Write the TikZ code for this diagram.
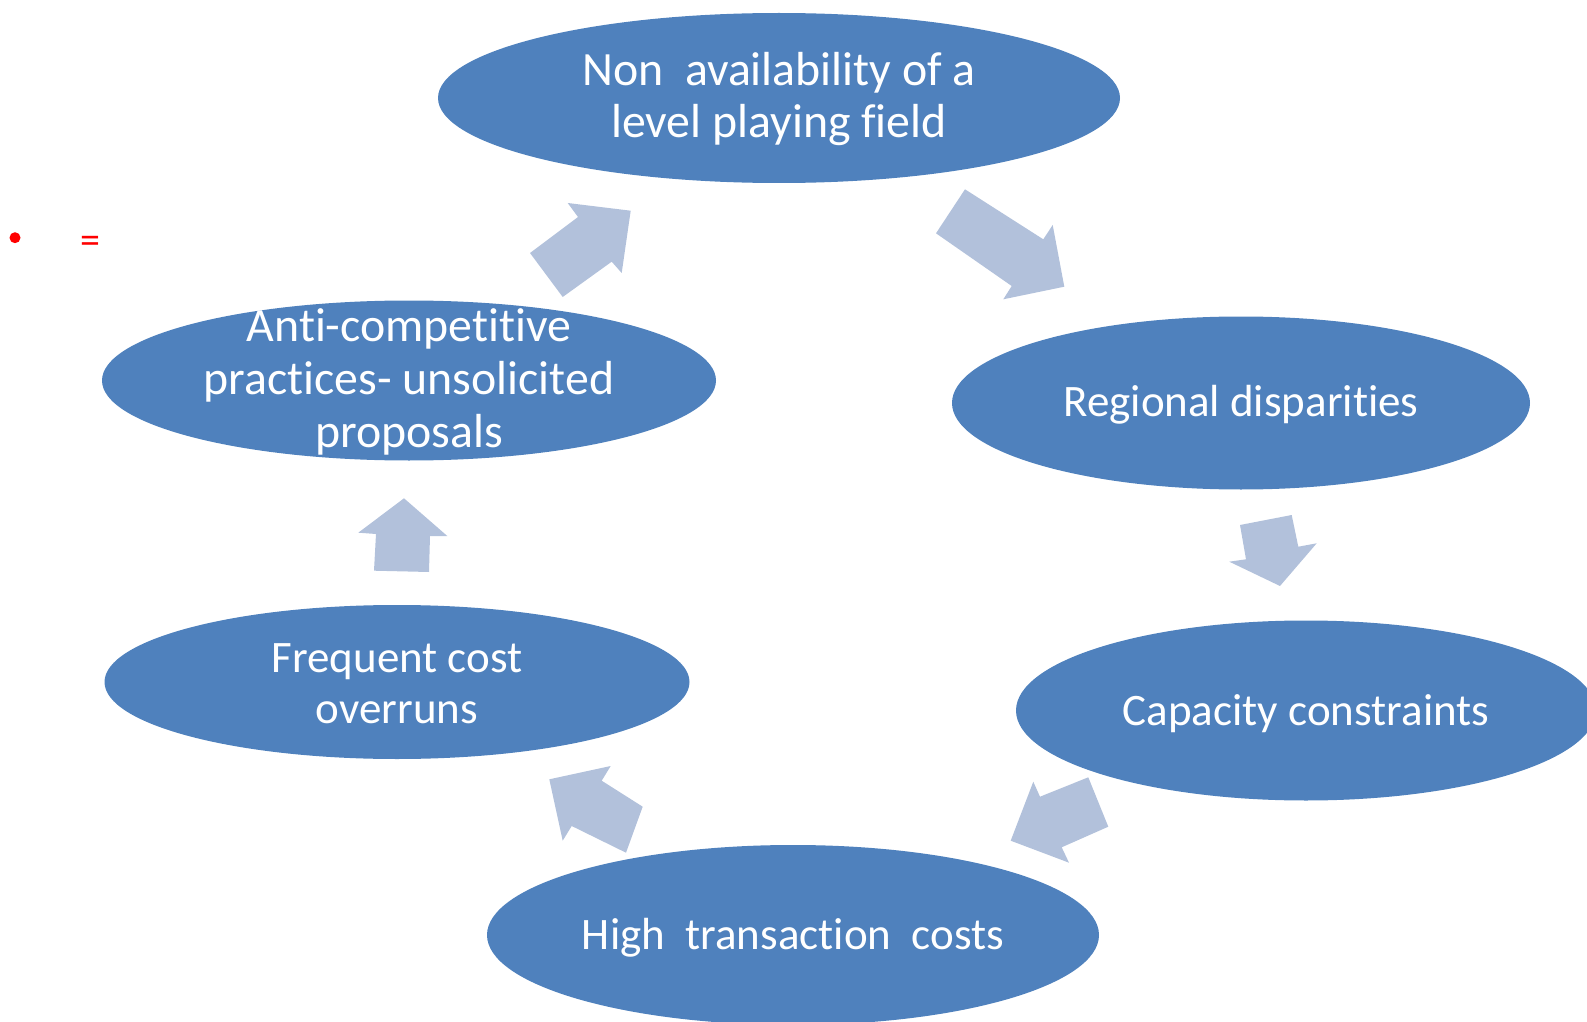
\documentclass[tikz,border=0pt]{standalone}
\usepackage{fontspec}
\setmainfont{Carlito}[Ligatures=NoCommon]
\usetikzlibrary{shapes.geometric}
\definecolor{ellblue}{HTML}{4F81BD}
\definecolor{arrblue}{HTML}{B2C1DB}
\tikzset{
  ell/.style={ellipse, fill=ellblue, draw=none, inner sep=0pt},
  lbl/.style={text=white, align=center, inner sep=0pt, font=\fontsize{22.5}{25.5}\selectfont},
  lblbig/.style={lbl, font=\fontsize{23.9}{25.7}\selectfont},
  blockarrow/.style={fill=arrblue, draw=none}
}
\begin{document}
\begin{tikzpicture}[x=0.5pt,y=-0.5pt]
\useasboundingbox (0,0) rectangle (1587,1022);
\clip (0,0) rectangle (1587,1022);
% ellipses
\node[ell, minimum width=341pt, minimum height=85pt] (e1) at (779,98) {};
\node[ell, minimum width=289pt, minimum height=86.5pt] (e2) at (1241,403) {};
\node[ell, minimum width=290pt, minimum height=90pt] (e3) at (1306,710.5) {};
\node[ell, minimum width=306pt, minimum height=90pt] (e4) at (793,935) {};
\node[ell, minimum width=292.5pt, minimum height=77pt] (e5) at (397,682) {};
\node[ell, minimum width=307pt, minimum height=80pt] (e6) at (409,380.5) {};
% labels
\node[lblbig] (t1) at (779,99) {Non\ \ availability of a\\level playing field};
\node[lbl] (t2) at (1241,405) {Regional disparities};
\node[lbl] (t3) at (1306,713.5) {Capacity constraints};
\node[lbl] (t4) at (793,938) {High\ \ transaction\ \ costs};
\node[lbl] (t5) at (397,684) {Frequent cost\\overruns};
\node[lblbig, font=\fontsize{23.9}{26.5}\selectfont] (t6) at (409,382) {Anti-competitive\\practices- unsolicited\\proposals};
% block arrows
\fill[blockarrow] (530,253) -- (578,217) -- (567.7,203) -- (630.7,210.7) -- (621.7,273) -- (611.7,261.7) -- (562.7,297) -- cycle;
\fill[blockarrow] (965,189.3) -- (1043.3,239.3) -- (1052.7,225) -- (1064.3,286.7) -- (1003.3,299.3) -- (1011.7,286) -- (936,233.3) -- cycle;
\fill[blockarrow] (1240,525) -- (1291.7,515) -- (1298.3,546.7) -- (1316.7,543.3) -- (1280,586) -- (1229.3,561.7) -- (1246,559.3) -- cycle;
\fill[blockarrow] (1088.3,777.3) -- (1108.3,826.7) -- (1061.7,847.3) -- (1069,862.7) -- (1010.7,840.7) -- (1033.3,781.7) -- (1040,796.7) -- cycle;
\fill[blockarrow] (642.7,806.7) -- (626,852.7) -- (571.7,826) -- (562.7,840.7) -- (549.3,779.3) -- (610.7,766) -- (601.7,780.7) -- cycle;
\fill[blockarrow] (374,570.7) -- (429,572) -- (430,536) -- (447.3,536) -- (404,498.3) -- (358.3,532.7) -- (376,534) -- cycle;
% red bullet and equals
\fill[red] (15,237.7) circle (5.5);
\node[text=red, inner sep=0pt, font=\fontsize{20}{24}\selectfont] (eq) at (90.7,245) {=};
\end{tikzpicture}
\end{document}
